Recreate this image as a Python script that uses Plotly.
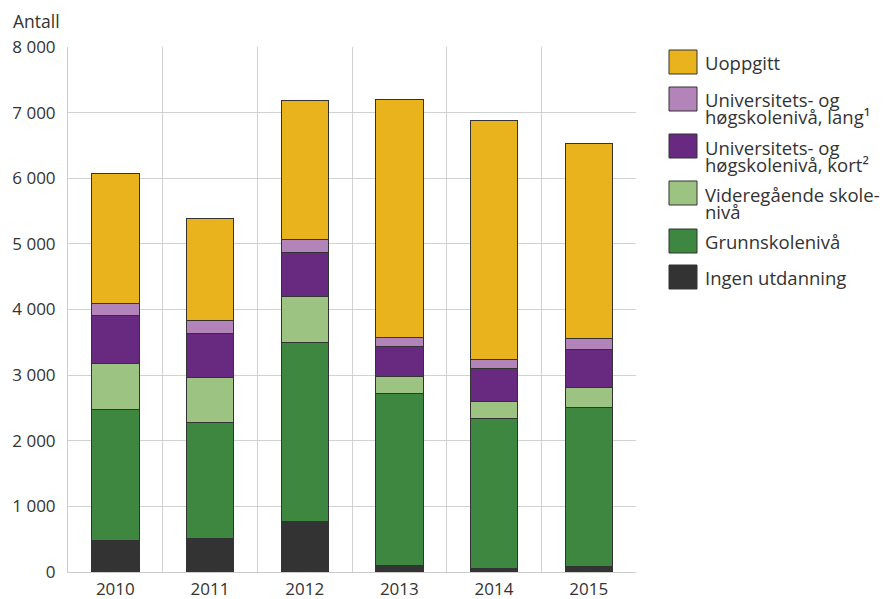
import plotly.graph_objects as go

years = ["2010", "2011", "2012", "2013", "2014", "2015"]

ingen = [487, 518, 776, 101, 61, 81]
grunnskole = [1990, 1761, 2721, 2625, 2284, 2427]
videregaende = [701, 690, 695, 254, 259, 299]
uni_kort = [725, 666, 676, 451, 492, 584]
uni_lang = [189, 198, 203, 147, 147, 162]
uoppgitt = [1988, 1558, 2112, 3620, 3635, 2975]

series = [
    ("Ingen utdanning", ingen, "#333333", ["Ingen utdanning"]),
    ("Grunnskolenivå", grunnskole, "#3D8740", ["Grunnskolenivå"]),
    ("Videregående skolenivå", videregaende, "#9DC383", ["Videregående skole-", "nivå"]),
    ("Universitets- og høgskolenivå, kort²", uni_kort, "#672A80", ["Universitets- og", "høgskolenivå, kort²"]),
    ("Universitets- og høgskolenivå, lang¹", uni_lang, "#B384BA", ["Universitets- og", "høgskolenivå, lang¹"]),
    ("Uoppgitt", uoppgitt, "#E9B31E", ["Uoppgitt"]),
]

FONT = "Open Sans"
TXT = "#333333"

fig = go.Figure()
for name, vals, col, _ in series:
    fig.add_trace(go.Bar(
        x=years, y=vals, name=name, marker_color=col,
        marker_line_color="#333333", marker_line_width=1, width=0.5,
        showlegend=False,
    ))

L, R, T, B = 68, 636, 47, 572
W, H = 885, 599

def px(x):
    return (x - L) / (R - L)

def py(y):
    return (B - y) / (B - T)

shapes = []
annotations = []
legend_rows = [
    (50, series[5]),
    (87, series[4]),
    (134, series[3]),
    (181, series[2]),
    (229, series[1]),
    (265, series[0]),
]
LEG = 18.5
for top, (name, vals, col, lines) in legend_rows:
    shapes.append(dict(type="rect", xref="paper", yref="paper",
                       x0=px(669), x1=px(697), y0=py(top + 24), y1=py(top),
                       fillcolor=col, line=dict(color="#333333", width=1)))
    if len(lines) == 1:
        annotations.append(dict(text=lines[0], xref="paper", yref="paper",
                                x=px(703), y=py(top + 12.5), xanchor="left", yanchor="middle",
                                showarrow=False, font=dict(family=FONT, size=LEG, color=TXT)))
    else:
        for i, ln in enumerate(lines):
            annotations.append(dict(text=ln, xref="paper", yref="paper",
                                    x=px(703), y=py(top + 13 + 17 * i), xanchor="left", yanchor="middle",
                                    showarrow=False, font=dict(family=FONT, size=LEG, color=TXT)))

annotations.append(dict(text="Antall", xref="paper", yref="paper",
                        x=px(11), y=py(21), xanchor="left", yanchor="middle",
                        showarrow=False, font=dict(family=FONT, size=17.5, color=TXT)))

fig.update_layout(
    barmode="stack",
    width=W, height=H,
    margin=dict(l=L, r=W - R, t=T, b=H - B, pad=0),
    paper_bgcolor="white", plot_bgcolor="white",
    separators=", ",
    font=dict(family=FONT, size=17, color=TXT),
    shapes=shapes, annotations=annotations,
    xaxis=dict(type="category", tickson="boundaries", showgrid=True, gridcolor="#d2d2d2",
               gridwidth=1, ticks="", showline=True, linecolor="#cccccc", linewidth=1,
               range=[-0.5, 5.5], automargin=False, ticklabelstandoff=2,
               tickfont=dict(family=FONT, size=17, color=TXT)),
    yaxis=dict(range=[0, 8000], dtick=1000, tickformat=",d", showgrid=True,
               gridcolor="#d2d2d2", gridwidth=1, ticks="", showline=True,
               linecolor="#cccccc", linewidth=1, zeroline=False, automargin=False,
               ticklabelstandoff=8, tickfont=dict(family=FONT, size=17, color=TXT)),
)

css_fix = (
    "document.documentElement.style.margin='0';"
    "document.documentElement.style.overflow='hidden';"
    "document.body.style.margin='0';"
    "document.body.style.overflow='hidden';"
)

fig.write_html("out.html", post_script=css_fix, config={"displayModeBar": False})
